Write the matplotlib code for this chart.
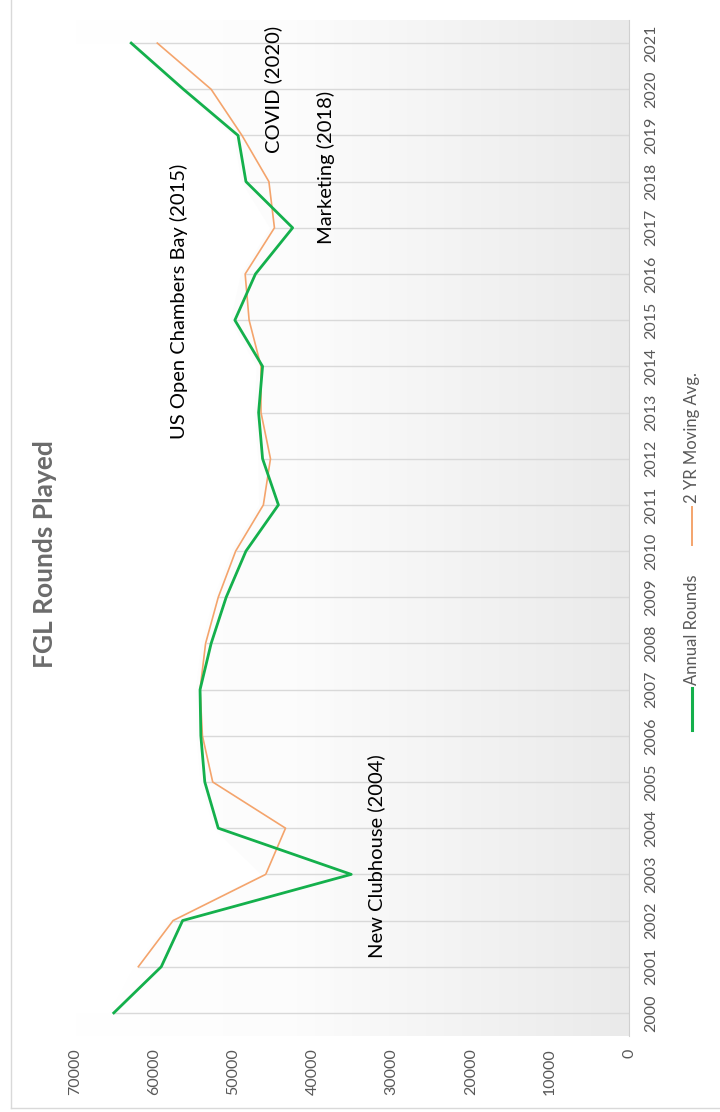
import numpy as np
import matplotlib
matplotlib.use("Agg")
import matplotlib.pyplot as plt
from matplotlib.colors import LinearSegmentedColormap
from matplotlib.lines import Line2D

plt.rcParams['font.family'] = ['Lato', 'DejaVu Sans']

# data
years = [str(y) for y in range(2000, 2022)]
annual_rounds = [65100, 59100, 56400, 35100, 51900, 53600, 54100, 54200, 52800, 50900, 48400,
                 44300, 46300, 46800, 46300, 49800, 47200, 42500, 48400, 49400, 56300, 62900]
# 2 yr moving avg starts in 2001
moving_avg = [np.nan, 62000, 57600, 45900, 43400, 52600, 53900, 54200, 53500, 51900, 49700,
              46200, 45300, 46500, 46500, 48000, 48500, 44800, 45500, 48900, 52800, 59600]
value_ticks = [0, 10000, 20000, 30000, 40000, 50000, 60000, 70000]

notes = ["New Clubhouse (2004)", "US Open Chambers Bay (2015)", "Marketing (2018)", "COVID (2020)"]
note_values = [32000, 56800, 38300, 45000]
note_pos = [3.4, 15.4, 18.3, 20.0]

green = "#14b04c"
orange = "#f4a46c"
grey_txt = "#595959"

fig = plt.figure(figsize=(7.2, 11.12), dpi=100)
W, H = 720, 1112
ax = fig.add_axes([75 / W, 1 - 1036 / H, (629 - 75) / W, (1036 - 20) / H])

idx = np.arange(len(years))
ax.set_xlim(70000, 0)
ax.set_ylim(-0.5, len(years) - 0.5)

# gradient background (white -> light grey toward 0)
cmap = LinearSegmentedColormap.from_list("bg", [(0, "#ffffff"), (0.4, "#fcfcfc"), (1, "#eaeaea")])
grad = np.linspace(0, 1, 256).reshape(1, -1)
ax.imshow(grad, extent=[70000, 0, -0.5, len(years) - 0.5], cmap=cmap, aspect='auto', zorder=0)

# category grid lines only run from the axis up to the curves
env = np.fmax(np.array(annual_rounds, float), np.array(moving_avg, float))
ax.hlines(idx, 0, env, color="#d9d9d9", linewidth=1.0, zorder=0.5)

# white area beyond the lines
ax.fill_betweenx(idx, env + 600, 70000, color="white", linewidth=0, zorder=0.8)

ax.plot(moving_avg, idx, color=orange, linewidth=1.2, zorder=3)
ax.plot(annual_rounds, idx, color=green, linewidth=2.0, zorder=4)

for txt, v, p in zip(notes, note_values, note_pos):
    ax.text(v, p, txt, rotation=90, ha='center', va='center', fontsize=14.5, color="black", zorder=5)

for s in ['top', 'bottom', 'left']:
    ax.spines[s].set_visible(False)
ax.spines['right'].set_color("#d0d0d0")

ax.set_xticks(value_ticks)
ax.set_xticklabels([str(v) for v in value_ticks], rotation=90, color=grey_txt, fontsize=11.5)
ax.tick_params(axis='x', length=0, pad=9)

ax.yaxis.tick_right()
ax.set_yticks(idx)
ax.set_yticklabels(years, rotation=90, color=grey_txt, fontsize=11.5, ha='center', va='center')
ax.tick_params(axis='y', length=0, pad=16)

# title (chart is rotated)
fig.text(45 / W, 1 - 554 / H, "FGL Rounds Played", rotation=90, ha='center', va='center',
         fontsize=19, fontweight='bold', color="#6b6b6b")

# legend drawn by hand, rotated
fig.add_artist(Line2D([692 / W, 692 / W], [1 - 730 / H, 1 - 688 / H], color=green, linewidth=2.2,
                      transform=fig.transFigure))
fig.text(692 / W, 1 - 685 / H, "Annual Rounds", rotation=90, ha='center', va='bottom',
         fontsize=12, color=grey_txt)
fig.add_artist(Line2D([692 / W, 692 / W], [1 - 545 / H, 1 - 507 / H], color=orange, linewidth=1.4,
                      transform=fig.transFigure))
fig.text(692 / W, 1 - 503 / H, "2 YR Moving Avg.", rotation=90, ha='center', va='bottom',
         fontsize=12, color=grey_txt)

# chart border
fig.add_artist(Line2D([11 / W, 11 / W], [1 - 1108 / H, 1.0], color="#d9d9d9", linewidth=1,
                      transform=fig.transFigure))
fig.add_artist(Line2D([11 / W, 1.0], [1 - 1108 / H, 1 - 1108 / H], color="#d9d9d9", linewidth=1,
                      transform=fig.transFigure))

fig.savefig("out.png", dpi=100)
